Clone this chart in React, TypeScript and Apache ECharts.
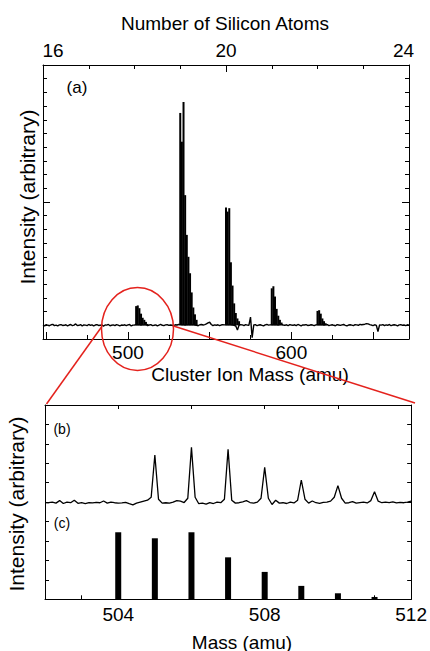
import React, { useEffect, useRef } from "react";
import * as echarts from "echarts";

// ---------- data ----------
// Top panel (a): mass axis (amu) and matching number-of-atoms axis
const massRange = [448, 672];
const atomRange = [16, 24];
const massMajorTicks = [450, 500, 550, 600, 650];
const massMinorTicks = [475, 525, 575, 625];
const massLabels = [500, 600];

// baseline noise of the spectrum, one value per amu from 448 to 672
const baselineStart = 448;
const baselineNoise = [
  0.03, -0.04, 0.05, 0.0, -0.03, 0.04, 0.07, -0.02, 0.01, -0.05, 0.03, 0.05, -0.01, 0.0, 0.04,
  -0.04, 0.02, 0.06, -0.03, 0.01, 0.1, -0.02, 0.0, 0.05, -0.05, 0.03, 0.01, -0.02, 0.06, 0.0,
  0.03, -0.04, 0.02, 0.05, -0.01, 0.0, 0.04, -0.06, 0.02, 0.01, 0.06, -0.03, 0.0, 0.03, -0.02,
  0.05, 0.01, -0.04, 0.02, 0.0, 0.04, -0.02, 0.03, 0.06, -0.05, 0.01, 0.02, 0.05, 0.04, 0.03,
  0.02, 0.03, 0.04, 0.06, -0.03, 0.02, 0.05, -0.02, 0.0, 0.03, -0.04, 0.01, 0.06, 0.0, -0.02,
  0.03, 0.05, -0.01, 0.02, 0.0, -0.03, 0.04, 0.02, 0.06, 0.05, 0.04, 0.03, 0.02, 0.03, 0.04,
  0.05, 0.03, 0.05, 0.02, 0.0, -0.03, 0.04, 0.06, 0.02, 0.05, 0.1, 0.18, 0.22, 0.06, -0.02,
  0.03, 0.0, 0.04, -0.03, 0.02, 0.05, 0.03, 0.04, 0.05, 0.03, 0.04, 0.02, 0.0, -0.05, -0.35,
  0.02, 0.04, 0.03, -0.02, 0.05, 0.01, 0.0, 0.6, -0.9, 0.03, 0.05, -0.03, 0.02, 0.04, 0.0,
  -0.04, 0.03, 0.06, 0.01, 0.03, 0.04, 0.05, 0.03, 0.04, 0.02, 0.05, 0.06, 0.02, 0.0, 0.04,
  -0.03, 0.05, 0.02, 0.0, 0.04, -0.02, 0.06, 0.01, -0.04, 0.03, 0.02, 0.05, -0.01, 0.0, 0.04,
  0.02, -0.03, 0.03, 0.04, 0.05, 0.03, 0.04, 0.02, 0.03, 0.05, -0.02, 0.01, 0.04, 0.0, -0.03,
  0.05, 0.02, -0.01, 0.03, 0.06, 0.0, -0.04, 0.02, 0.04, 0.01, -0.02, 0.05, 0.03, 0.0, 0.07,
  0.04, 0.06, 0.08, 0.12, 0.1, 0.05, 0.02, -0.03, 0.04, 0.0, -0.45, 0.03, 0.01, 0.05, -0.02,
  0.03, 0.0, 0.06, -0.03, 0.02, 0.04, 0.01, -0.04, 0.03, 0.05, 0.0, 0.02, -0.02, 0.04, 0.01,
];

// isotope peaks of each Si_n cluster, one value per amu from the cluster's first mass
const clusterStart = [505, 532, 560, 588, 616];
const clusterSi18 = [1.4, 1.45, 1.25, 0.85, 0.55, 0.4, 0.25, 0.1];
const clusterSi19 = [15.5, 13.4, 16.3, 9.5, 6.6, 5.0, 3.8, 2.4, 1.3, 0.8, 0.4];
const clusterSi20 = [8.6, 8.3, 8.55, 4.6, 2.9, 1.6, 0.9, 0.5, 0.3];
const clusterSi21 = [2.7, 2.85, 2.1, 1.2, 0.7, 0.4, 0.2];
const clusterSi22 = [1.05, 1.1, 0.85, 0.5, 0.3, 0.15];

// Bottom panel: (b) measured trace, 0.1 amu steps from 502.0 to 512.0
const measuredStart = 502.0;
const measuredStep = 0.1;
const measuredTrace = [
  4.98, 4.97, 5.0, 4.95, 5.08, 4.93, 5.0, 4.97, 5.1, 4.94,
  4.98, 4.93, 4.98, 4.96, 4.99, 4.97, 5.06, 4.95, 5.0, 4.97,
  4.95, 4.96, 4.99, 4.92, 4.86, 4.95, 5.0, 5.05, 5.1, 5.25,
  7.43, 5.15, 4.95, 4.97, 4.95, 5.0, 5.08, 5.05, 4.98, 5.2,
  7.82, 5.25, 4.92, 4.95, 4.9, 4.98, 4.93, 5.0, 4.97, 5.15,
  7.72, 5.1, 4.95, 4.97, 5.02, 5.08, 4.98, 4.95, 5.0, 5.2,
  6.79, 5.2, 4.88, 5.1, 4.95, 4.97, 4.93, 5.0, 4.96, 5.1,
  6.14, 5.15, 4.95, 5.06, 4.97, 4.94, 4.99, 5.0, 5.05, 5.25,
  5.85, 5.2, 4.95, 4.97, 5.03, 4.95, 4.98, 5.0, 4.96, 5.08,
  5.54, 5.05, 4.97, 5.0, 4.98, 5.02, 4.96, 4.99, 4.97, 5.0,
  5.05,
];
// (c) calculated isotope pattern
const calcMass = [504, 505, 506, 507, 508, 509, 510, 511];
const calcIntensity = [3.45, 3.14, 3.45, 2.16, 1.41, 0.69, 0.31, 0.12];
const zoomMassLabels = [504, 508, 512];

// ---------- component ----------
const FONT = "'Liberation Sans', Arial, Helvetica, sans-serif";
const BLACK = "#000";
const RED = "#e4221d";

export default function App() {
  const ref = useRef<HTMLDivElement>(null);

  useEffect(() => {
    if (!ref.current) return;
    const chart = echarts.init(ref.current, null, { renderer: "svg" });

    const baselineData = baselineNoise.map((v, i) => [baselineStart + i, v]);
    const clusters = [clusterSi18, clusterSi19, clusterSi20, clusterSi21, clusterSi22];
    const clusterData: number[][] = [];
    clusters.forEach((c, k) => c.forEach((v, i) => clusterData.push([clusterStart[k] + i, v])));
    const measuredData = measuredTrace.map((v, i) => [
      Math.round((measuredStart + i * measuredStep) * 10) / 10,
      v,
    ]);
    const calcData = calcMass.map((m, i) => [m, calcIntensity[i]]);

    const line = { lineStyle: { color: BLACK, width: 1 } };
    const noSplit = { show: false };
    const labelStyle = { color: BLACK, fontSize: 19, lineHeight: 19, fontFamily: FONT };

    const text = (x: number, y: number, t: string, size: number, rot = 0) => ({
      type: "text",
      x,
      y,
      rotation: rot,
      z: 50,
      style: {
        text: t,
        fill: BLACK,
        font: `${size}px ${FONT}`,
        textAlign: "center",
        textVerticalAlign: "middle",
      },
    });

    chart.setOption({
      animation: false,
      backgroundColor: "#fff",
      grid: [
        { left: 43, top: 65, width: 366, height: 274 },
        { left: 45, top: 405, width: 367, height: 194.3 },
      ],
      xAxis: [
        {
          type: "value",
          gridIndex: 0,
          position: "bottom",
          min: massRange[0],
          max: massRange[1],
          axisLine: { show: true, onZero: false, ...line },
          axisTick: { show: true, inside: true, length: 7, customValues: massMajorTicks, ...line },
          axisLabel: { show: true, customValues: massLabels, margin: 4, ...labelStyle },
          splitLine: noSplit,
        },
        {
          type: "value",
          gridIndex: 0,
          position: "bottom",
          min: massRange[0],
          max: massRange[1],
          axisLine: { show: false, onZero: false },
          axisTick: { show: true, inside: true, length: 4, customValues: massMinorTicks, ...line },
          axisLabel: { show: false },
          splitLine: noSplit,
        },
        {
          type: "value",
          gridIndex: 0,
          position: "top",
          min: atomRange[0],
          max: atomRange[1],
          interval: 4,
          axisLine: { show: true, onZero: false, ...line },
          axisTick: { show: true, inside: true, length: 7, ...line },
          minorTick: { show: true, splitNumber: 4, length: 4, ...line },
          axisLabel: {
            show: true,
            margin: 5,
            ...labelStyle,
            formatter: (v: number) =>
              v === atomRange[0] ? `{l|${v}}` : v === atomRange[1] ? `{r|${v}}` : `${v}`,
            rich: {
              l: { ...labelStyle, padding: [0, 0, 0, 20] },
              r: { ...labelStyle, padding: [0, 11, 0, 0] },
            },
          },
          splitLine: noSplit,
          minorSplitLine: noSplit,
        },
        {
          type: "value",
          gridIndex: 1,
          position: "bottom",
          min: 502,
          max: 512,
          interval: 1,
          axisLine: { show: true, onZero: false, ...line },
          axisTick: { show: true, inside: true, length: 4, ...line },
          axisLabel: { show: true, customValues: zoomMassLabels, margin: 6, ...labelStyle },
          splitLine: noSplit,
        },
        {
          type: "value",
          gridIndex: 1,
          position: "top",
          min: 502,
          max: 512,
          interval: 2,
          axisLine: { show: true, onZero: false, ...line },
          axisTick: { show: true, inside: true, length: 4, ...line },
          axisLabel: { show: false },
          splitLine: noSplit,
        },
      ],
      yAxis: [
        {
          type: "value",
          gridIndex: 0,
          position: "left",
          min: -1,
          max: 19,
          interval: 10,
          axisLine: { show: true, onZero: false, ...line },
          axisTick: { show: true, inside: true, length: 7, ...line },
          minorTick: { show: true, splitNumber: 10, length: 4, ...line },
          axisLabel: { show: false },
          splitLine: noSplit,
          minorSplitLine: noSplit,
        },
        {
          type: "value",
          gridIndex: 0,
          position: "right",
          min: -1,
          max: 19,
          interval: 10,
          axisLine: { show: true, onZero: false, ...line },
          axisTick: { show: true, inside: true, length: 7, ...line },
          minorTick: { show: true, splitNumber: 10, length: 4, ...line },
          axisLabel: { show: false },
          splitLine: noSplit,
          minorSplitLine: noSplit,
        },
        {
          type: "value",
          gridIndex: 1,
          position: "left",
          min: 0,
          max: 10,
          interval: 1,
          axisLine: { show: true, onZero: false, ...line },
          axisTick: { show: true, inside: true, length: 4, ...line },
          axisLabel: { show: false },
          splitLine: noSplit,
        },
        {
          type: "value",
          gridIndex: 1,
          position: "right",
          min: 0,
          max: 10,
          interval: 1,
          axisLine: { show: true, onZero: false, ...line },
          axisTick: { show: true, inside: true, length: 4, ...line },
          axisLabel: { show: false },
          splitLine: noSplit,
        },
      ],
      series: [
        {
          type: "line",
          name: "baseline",
          xAxisIndex: 0,
          yAxisIndex: 0,
          data: baselineData,
          symbol: "none",
          lineStyle: { color: BLACK, width: 1.4 },
          z: 2,
        },
        {
          type: "bar",
          name: "clusters",
          xAxisIndex: 0,
          yAxisIndex: 0,
          data: clusterData,
          barWidth: 2,
          itemStyle: { color: BLACK },
          z: 3,
        },
        {
          type: "line",
          name: "measured",
          xAxisIndex: 3,
          yAxisIndex: 2,
          data: measuredData,
          symbol: "none",
          lineStyle: { color: BLACK, width: 1.3 },
        },
        {
          type: "bar",
          name: "calculated",
          xAxisIndex: 3,
          yAxisIndex: 2,
          data: calcData,
          barWidth: 6,
          itemStyle: { color: BLACK },
        },
      ],
      graphic: [
        text(225, 23, "Number of Silicon Atoms", 19),
        text(250, 374, "Cluster Ion Mass (amu)", 19),
        text(242, 642, "Mass (amu)", 19),
        text(27, 197, "Intensity (arbitrary)", 21, Math.PI / 2),
        text(16, 504, "Intensity (arbitrary)", 21, Math.PI / 2),
        text(77, 87, "(a)", 17),
        text(62, 429, "(b)", 14),
        text(62, 523, "(c)", 14),
        {
          type: "ellipse",
          z: 60,
          shape: { cx: 137.5, cy: 329, rx: 36, ry: 41.5 },
          style: { fill: "none", stroke: RED, lineWidth: 1.5 },
        },
        {
          type: "line",
          z: 60,
          shape: { x1: 101.5, y1: 327, x2: 46.5, y2: 404 },
          style: { stroke: RED, lineWidth: 1.5 },
        },
        {
          type: "line",
          z: 60,
          shape: { x1: 173.5, y1: 326, x2: 415, y2: 403 },
          style: { stroke: RED, lineWidth: 1.5 },
        },
      ],
    });

    return () => chart.dispose();
  }, []);

  return (
    <div
      ref={ref}
      style={{ position: "fixed", left: 0, top: 0, width: 430, height: 651, background: "#fff" }}
    />
  );
}
